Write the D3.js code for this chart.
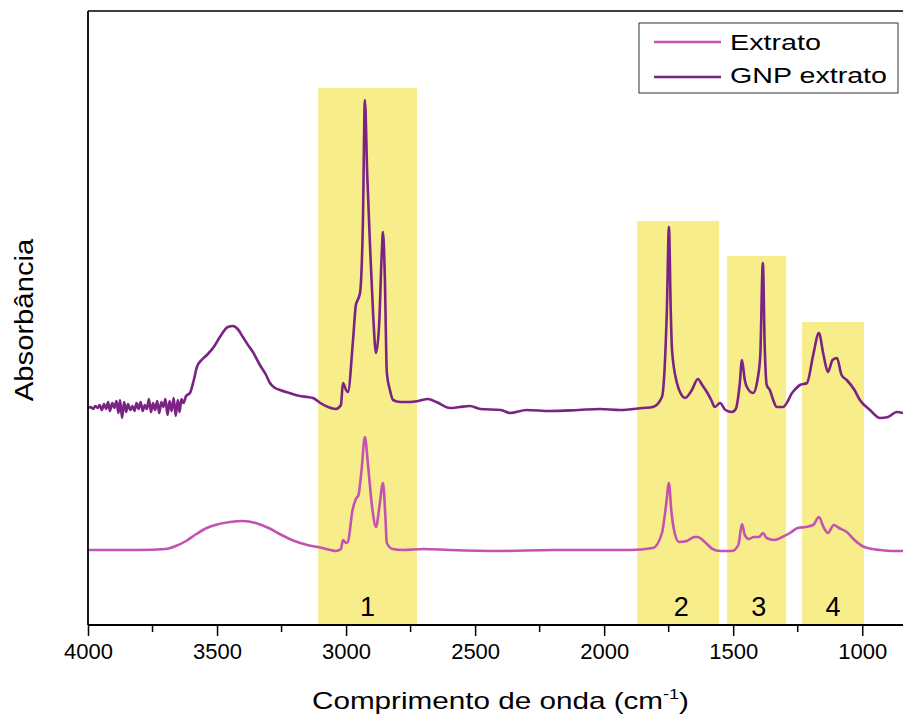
<!DOCTYPE html>
<html>
<head>
<meta charset="utf-8">
<script src="https://cdn.jsdelivr.net/npm/d3@7"></script>
<style>
  body { margin: 0; background: #fff; }
  text { font-family: "Liberation Sans", Arial, sans-serif; }
</style>
</head>
<body>
<div id="chart"></div>
<script>
// wavenumber (cm-1) / absorbance (arb. units)
var gnpWave = [4000, 3990, 3980, 3972, 3962, 3955, 3946, 3938, 3930, 3922, 3915, 3906, 3898, 3890, 3882, 3876, 3868, 3860, 3852, 3845, 3836, 3828, 3820, 3812, 3804, 3796, 3788, 3780, 3772, 3764, 3756, 3748, 3740, 3732, 3724, 3716, 3708, 3700, 3692, 3684, 3676, 3668, 3660, 3652, 3645, 3638, 3630, 3620, 3605, 3590, 3578, 3560, 3539, 3510, 3489, 3458, 3438, 3420, 3400, 3380, 3361, 3334, 3310, 3295, 3275, 3256, 3220, 3179, 3150, 3128, 3100, 3070, 3040, 3020, 3012, 3000, 2993, 2973, 2962, 2955, 2946, 2935, 2927, 2918, 2907, 2895, 2884, 2872, 2862, 2857, 2850, 2842, 2830, 2818, 2790, 2752, 2720, 2683, 2650, 2597, 2560, 2520, 2480, 2400, 2365, 2300, 2210, 2100, 2016, 1939, 1850, 1811, 1776, 1765, 1757, 1749, 1742, 1737, 1718, 1700, 1687, 1660, 1637, 1620, 1602, 1585, 1571, 1551, 1530, 1505, 1490, 1475, 1466, 1455, 1447, 1423, 1404, 1395, 1385, 1378, 1370, 1358, 1345, 1331, 1307, 1269, 1241, 1214, 1190, 1168, 1150, 1133, 1115, 1098, 1080, 1060, 1030, 1009, 970, 931, 900, 866, 842];
var gnpAbs = [0.434, 0.436, 0.432, 0.438, 0.434, 0.440, 0.430, 0.442, 0.432, 0.446, 0.428, 0.444, 0.434, 0.448, 0.424, 0.450, 0.414, 0.446, 0.426, 0.442, 0.430, 0.438, 0.428, 0.444, 0.432, 0.446, 0.428, 0.440, 0.432, 0.452, 0.426, 0.444, 0.430, 0.448, 0.424, 0.446, 0.436, 0.452, 0.420, 0.448, 0.428, 0.454, 0.418, 0.450, 0.426, 0.452, 0.444, 0.458, 0.464, 0.490, 0.516, 0.530, 0.540, 0.558, 0.576, 0.596, 0.598, 0.592, 0.576, 0.560, 0.546, 0.520, 0.500, 0.484, 0.474, 0.470, 0.464, 0.458, 0.456, 0.454, 0.444, 0.436, 0.432, 0.440, 0.484, 0.470, 0.466, 0.570, 0.640, 0.650, 0.664, 0.800, 1.050, 0.900, 0.756, 0.620, 0.544, 0.600, 0.740, 0.786, 0.700, 0.504, 0.470, 0.450, 0.446, 0.446, 0.448, 0.452, 0.446, 0.434, 0.436, 0.438, 0.432, 0.430, 0.424, 0.430, 0.428, 0.430, 0.432, 0.430, 0.434, 0.436, 0.456, 0.520, 0.630, 0.796, 0.630, 0.550, 0.484, 0.460, 0.454, 0.470, 0.492, 0.480, 0.466, 0.450, 0.436, 0.444, 0.430, 0.426, 0.432, 0.480, 0.530, 0.490, 0.476, 0.464, 0.496, 0.540, 0.724, 0.560, 0.480, 0.470, 0.450, 0.436, 0.436, 0.466, 0.480, 0.484, 0.540, 0.584, 0.540, 0.506, 0.530, 0.534, 0.500, 0.490, 0.470, 0.450, 0.430, 0.414, 0.416, 0.426, 0.424];

var extWave = [4000, 3800, 3700, 3660, 3620, 3580, 3540, 3500, 3450, 3400, 3350, 3300, 3250, 3200, 3150, 3100, 3060, 3040, 3020, 3012, 3000, 2993, 2975, 2962, 2952, 2940, 2927, 2915, 2900, 2884, 2870, 2857, 2848, 2842, 2820, 2780, 2700, 2600, 2400, 2200, 2000, 1900, 1811, 1776, 1760, 1749, 1740, 1730, 1710, 1680, 1650, 1637, 1610, 1580, 1550, 1505, 1480, 1466, 1455, 1440, 1420, 1400, 1385, 1370, 1340, 1310, 1280, 1250, 1220, 1190, 1168, 1150, 1133, 1110, 1090, 1060, 1030, 1000, 960, 931, 880, 842];
var extAbs = [0.150, 0.150, 0.152, 0.158, 0.168, 0.182, 0.194, 0.201, 0.206, 0.208, 0.204, 0.194, 0.180, 0.168, 0.160, 0.155, 0.150, 0.148, 0.152, 0.170, 0.164, 0.166, 0.230, 0.252, 0.260, 0.310, 0.376, 0.320, 0.240, 0.196, 0.240, 0.284, 0.220, 0.164, 0.152, 0.150, 0.152, 0.150, 0.148, 0.150, 0.150, 0.150, 0.154, 0.184, 0.240, 0.284, 0.230, 0.192, 0.166, 0.168, 0.176, 0.176, 0.166, 0.152, 0.148, 0.148, 0.160, 0.202, 0.180, 0.172, 0.176, 0.176, 0.184, 0.174, 0.170, 0.176, 0.184, 0.194, 0.196, 0.200, 0.216, 0.196, 0.184, 0.200, 0.194, 0.186, 0.170, 0.158, 0.152, 0.150, 0.148, 0.148];

// highlighted regions: [from, to] in cm-1, top in absorbance units, label
var bandLabels = ["1", "2", "3", "4"];
var bandFrom = [3108, 1872, 1523, 1233];
var bandTo = [2725, 1554, 1295, 993];
var bandTop = [1.074, 0.808, 0.738, 0.606];

var xTicks = [4000, 3500, 3000, 2500, 2000, 1500, 1000];
var xMinorTicks = [3750, 3250, 2750, 2250, 1750, 1250];

var seriesNames = ["Extrato", "GNP extrato"];
var seriesColors = ["#c353b3", "#7a2384"];

var width = 903;
var height = 721;
// plot box in pixels (note: "top" is reserved on window, so use plotTop)
var plotLeft = 88, plotRight = 903, plotTop = 11, plotBottom = 625;

var svg = d3.select("#chart")
    .append("svg")
    .attr("width", width)
    .attr("height", height);

var x = d3.scaleLinear().domain([4000, 842]).range([plotLeft, plotRight]);
var y = d3.scaleLinear().domain([0, 1.228]).range([plotBottom, plotTop]);

// yellow bands
svg.selectAll("rect.band")
    .data(bandLabels)
    .enter()
    .append("rect")
    .attr("class", "band")
    .attr("x", function (d, i) { return x(bandFrom[i]); })
    .attr("width", function (d, i) { return x(bandTo[i]) - x(bandFrom[i]); })
    .attr("y", function (d, i) { return y(bandTop[i]); })
    .attr("height", function (d, i) { return plotBottom - y(bandTop[i]); })
    .attr("fill", "#f8ed8b");

var labelShift = [0, 3, 2, 0];
svg.selectAll("text.bandlabel")
    .data(bandLabels)
    .enter()
    .append("text")
    .attr("class", "bandlabel")
    .attr("x", function (d, i) { return x((bandFrom[i] + bandTo[i]) / 2) + labelShift[i]; })
    .attr("y", 616)
    .attr("text-anchor", "middle")
    .style("font-size", "27px")
    .text(function (d) { return d; });

// spectra
var line = d3.line()
    .x(function (d) { return x(d[0]); })
    .y(function (d) { return y(d[1]); })
    .curve(d3.curveMonotoneX);

var series = [
    d3.zip(extWave, extAbs),
    d3.zip(gnpWave, gnpAbs)
];

svg.append("clipPath").attr("id", "clip")
    .append("rect")
    .attr("x", plotLeft).attr("y", plotTop)
    .attr("width", plotRight - plotLeft).attr("height", plotBottom - plotTop);

svg.selectAll("path.spec")
    .data(series)
    .enter()
    .append("path")
    .attr("class", "spec")
    .attr("clip-path", "url(#clip)")
    .attr("d", line)
    .attr("fill", "none")
    .attr("stroke", function (d, i) { return seriesColors[i]; })
    .attr("stroke-width", 2.6)
    .attr("stroke-linejoin", "round");

// axes
var xAxis = svg.append("g")
    .attr("transform", "translate(0," + plotBottom + ")")
    .call(d3.axisBottom(x).tickValues(xTicks).tickSize(11).tickPadding(7).tickFormat(d3.format("d")));
xAxis.select(".domain").remove();
xAxis.selectAll(".tick line").attr("stroke", "#000").attr("stroke-width", 1.5);
xAxis.selectAll("text").style("font-size", "22px").attr("fill", "#000");

svg.append("g")
    .attr("transform", "translate(0," + plotBottom + ")")
    .selectAll("line")
    .data(xMinorTicks)
    .enter()
    .append("line")
    .attr("x1", function (d) { return x(d); })
    .attr("x2", function (d) { return x(d); })
    .attr("y1", 0)
    .attr("y2", 7)
    .attr("stroke", "#000")
    .attr("stroke-width", 1.5);

svg.append("line")
    .attr("x1", plotLeft).attr("x2", plotRight).attr("y1", plotBottom).attr("y2", plotBottom)
    .attr("stroke", "#000").attr("stroke-width", 1.8);
svg.append("line")
    .attr("x1", plotLeft).attr("x2", plotRight).attr("y1", plotTop).attr("y2", plotTop)
    .attr("stroke", "#000").attr("stroke-width", 1.5);
svg.append("line")
    .attr("x1", plotLeft).attr("x2", plotLeft).attr("y1", plotTop).attr("y2", plotBottom)
    .attr("stroke", "#000").attr("stroke-width", 1.8);

// axis titles (the source text is a bit wider than Arial, so stretch it)
var xt = svg.append("text")
    .attr("transform", "translate(312,709) scale(1.29,1)")
    .style("font-size", "23px");
xt.append("tspan").text("Comprimento de onda (cm");
xt.append("tspan").attr("dy", -10).style("font-size", "14px").text("-1");
xt.append("tspan").attr("dy", 10).text(")");

svg.append("text")
    .attr("transform", "translate(33,320) rotate(-90) scale(1.17,1)")
    .attr("text-anchor", "middle")
    .style("font-size", "25px")
    .text("Absorbância");

// legend
var legend = svg.append("g");
legend.append("rect")
    .attr("x", 639).attr("y", 23)
    .attr("width", 259).attr("height", 70)
    .attr("fill", "#fff")
    .attr("stroke", "#333")
    .attr("stroke-width", 1);

legend.selectAll("line")
    .data(seriesNames)
    .enter()
    .append("line")
    .attr("x1", 654).attr("x2", 721)
    .attr("y1", function (d, i) { return 42 + i * 35; })
    .attr("y2", function (d, i) { return 42 + i * 35; })
    .attr("stroke", function (d, i) { return seriesColors[i]; })
    .attr("stroke-width", 2.6);

var legendWidths = [91, 157];
legend.selectAll("text")
    .data(seriesNames)
    .enter()
    .append("text")
    .attr("x", 730)
    .attr("y", function (d, i) { return 50 + i * 33; })
    .attr("textLength", function (d, i) { return legendWidths[i]; })
    .attr("lengthAdjust", "spacingAndGlyphs")
    .style("font-size", "22px")
    .text(function (d) { return d; });
</script>
</body>
</html>
